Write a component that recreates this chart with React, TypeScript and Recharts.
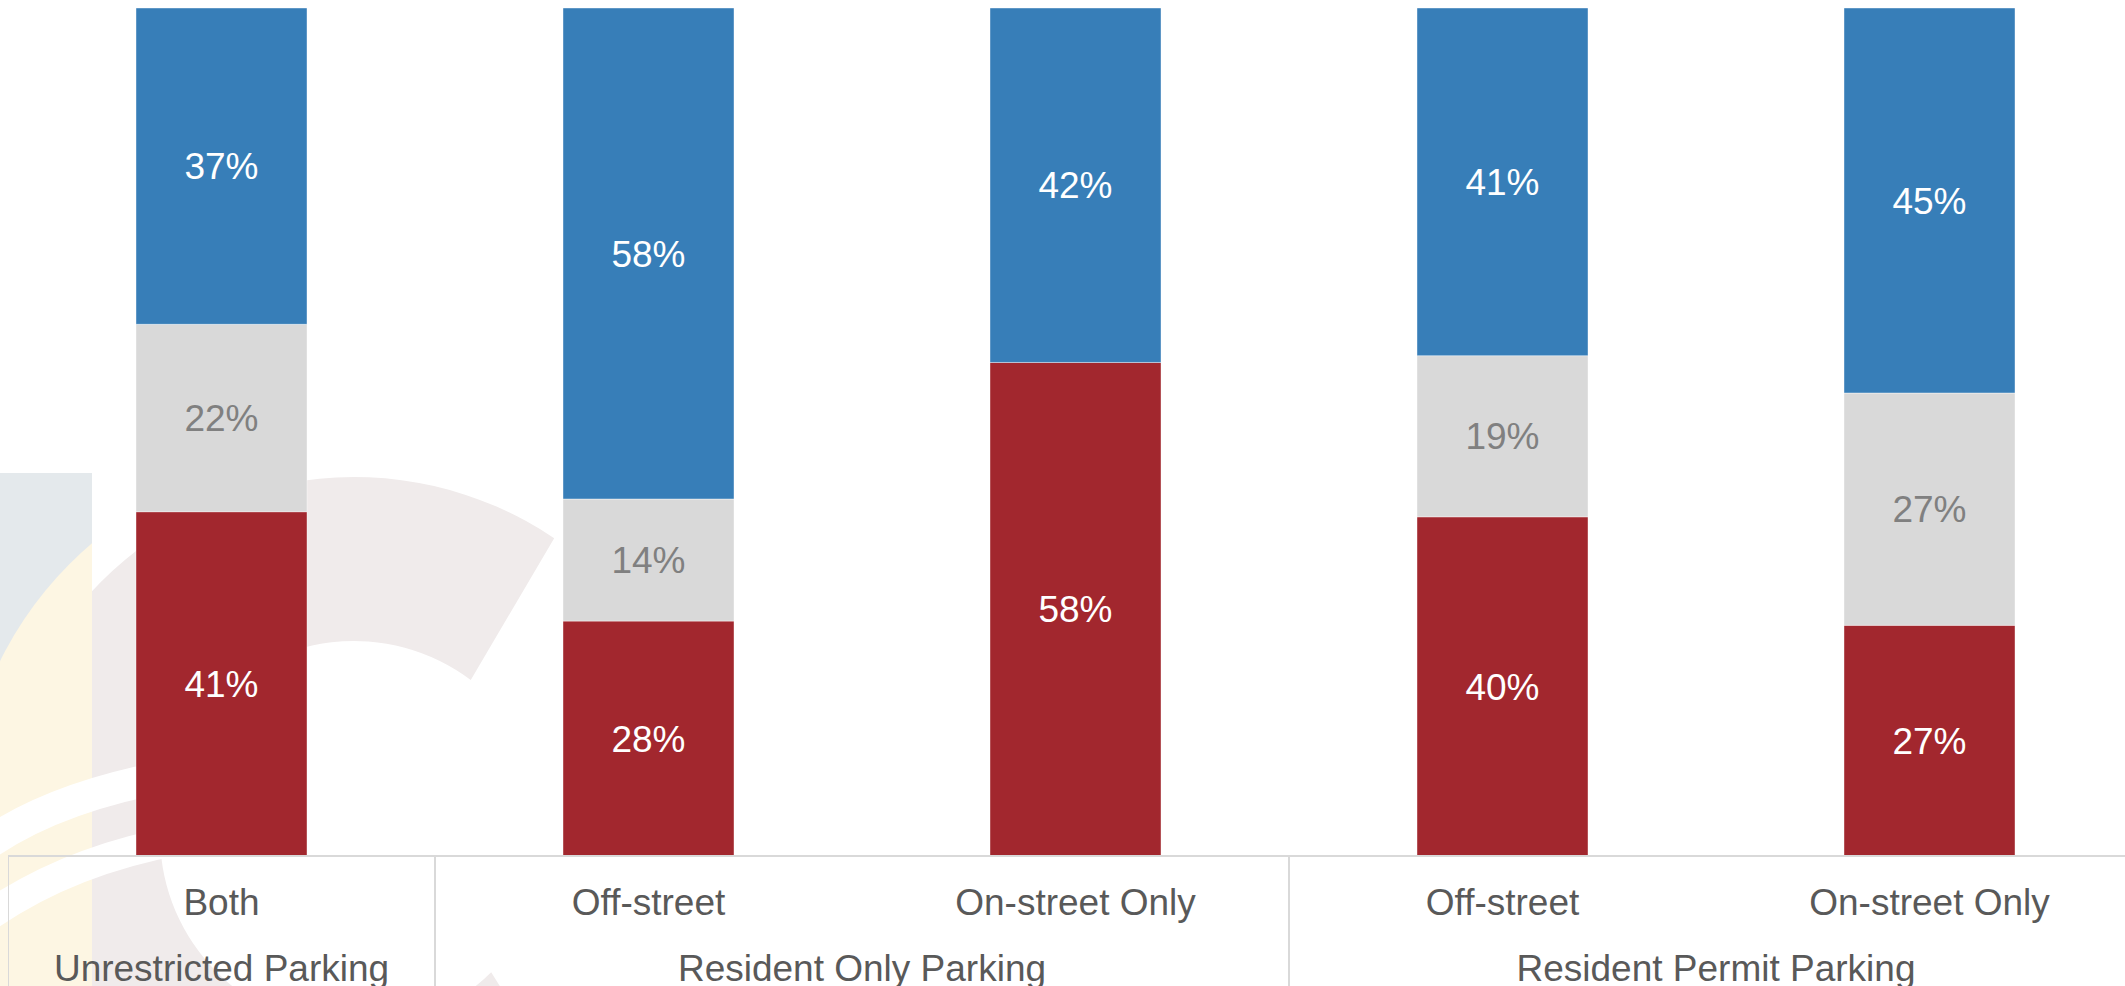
import React from "react";
import { BarChart, Bar, XAxis, YAxis, LabelList } from "recharts";

// categories along the x axis, and the groups they sit in
const categories = ["Both", "Off-street", "On-street Only", "Off-street", "On-street Only"];
const groupNames = ["Unrestricted Parking", "Resident Only Parking", "Resident Permit Parking"];
const groupStart = [0, 1, 3];
const groupSize = [1, 2, 2];

// shares per bar, bottom to top (percent)
const negative = [40.6, 27.7, 58.2, 40.0, 27.2];
const neutral = [22.1, 14.4, 0, 19.0, 27.4];
const positive = [37.3, 57.9, 41.8, 41.0, 45.4];

const data = categories.map((c, i) => ({
  id: i,
  name: c,
  negative: negative[i],
  neutral: neutral[i],
  positive: positive[i],
}));

const FONT = "'Liberation Sans', Arial, sans-serif";
const pct = (v: any) => (Number(v) >= 1 ? `${Math.round(Number(v))}%` : "");

function CategoryTick(props: any) {
  const { x, y, payload } = props;
  const i = props.index ?? payload.index;
  const half = payload.offset ?? 213.5;
  const g = groupStart.indexOf(i);
  return (
    <g fontFamily={FONT}>
      <text x={x} y={y + 59} textAnchor="middle" fill="#595959" fontSize={37}>
        {categories[i]}
      </text>
      {g >= 0 && (
        <>
          <line x1={x - half} x2={x - half} y1={y} y2={y + 200} stroke="#D9D9D9" strokeWidth={2} />
          <text
            x={x + (groupSize[g] - 1) * half}
            y={y + 125}
            textAnchor="middle"
            fill="#595959"
            fontSize={37}
          >
            {groupNames[g]}
          </text>
        </>
      )}
    </g>
  );
}

// faint logo behind the plot
function Watermark() {
  const cx = 354;
  const cy = 835;
  const ro = 358;
  const ri = 194;
  const p = (r: number, deg: number) => {
    const a = (deg * Math.PI) / 180;
    return `${cx + r * Math.cos(a)} ${cy + r * Math.sin(a)}`;
  };
  const ring = `M ${p(ro, 51)} A ${ro} ${ro} 0 1 1 ${p(ro, 304)} L ${p(ri, 307)} A ${ri} ${ri} 0 1 0 ${p(ri, 45)} Z`;
  return (
    <svg width={2125} height={986} style={{ position: "absolute", left: 0, top: 0 }}>
      <defs>
        <clipPath id="band">
          <rect x={0} y={473} width={92} height={513} />
        </clipPath>
      </defs>
      <path d={ring} fill="#F0EBEB" />
      <rect x={0} y={473} width={92} height={513} fill="#E4E9EC" />
      <circle cx={330} cy={824} r={368} fill="#FDF6E3" clipPath="url(#band)" />
      <path d="M -10 842 Q 60 795 175 775" stroke="#fff" strokeWidth={32} fill="none" />
      <path d="M -10 915 Q 70 860 180 840" stroke="#fff" strokeWidth={30} fill="none" />
    </svg>
  );
}

export default function App() {
  return (
    <div
      style={{
        position: "fixed",
        left: 0,
        top: 0,
        width: 2125,
        height: 986,
        overflow: "hidden",
        background: "#fff",
      }}
    >
      <Watermark />
      <div style={{ position: "absolute", left: 8, top: 0 }}>
        <BarChart
          width={2135}
          height={1001}
          data={data}
          margin={{ top: 8, right: 0, left: 0, bottom: 0 }}
        >
          <XAxis
            dataKey="id"
            height={145}
            interval={0}
            tickSize={0}
            tickMargin={0}
            tickLine={false}
            axisLine={{ stroke: "#D9D9D9", strokeWidth: 2 }}
            tick={<CategoryTick />}
          />
          <YAxis hide domain={[0, 100]} />
          <Bar dataKey="negative" stackId="s" fill="#A2272E" barSize={171} isAnimationActive={false}
            stroke="#ffffff" strokeOpacity={0.4} strokeWidth={1}>
            <LabelList dataKey="negative" position="center" formatter={pct} fill="#ffffff" fontSize={37} fontFamily={FONT} />
          </Bar>
          <Bar dataKey="neutral" stackId="s" fill="#D9D9D9" barSize={171} isAnimationActive={false}
            stroke="#ffffff" strokeOpacity={0.4} strokeWidth={1}>
            <LabelList dataKey="neutral" position="center" formatter={pct} fill="#808080" fontSize={37} fontFamily={FONT} />
          </Bar>
          <Bar dataKey="positive" stackId="s" fill="#377EB8" barSize={171} isAnimationActive={false}
            stroke="#ffffff" strokeOpacity={0.4} strokeWidth={1}>
            <LabelList dataKey="positive" position="center" formatter={pct} fill="#ffffff" fontSize={37} fontFamily={FONT} />
          </Bar>
        </BarChart>
      </div>
    </div>
  );
}
